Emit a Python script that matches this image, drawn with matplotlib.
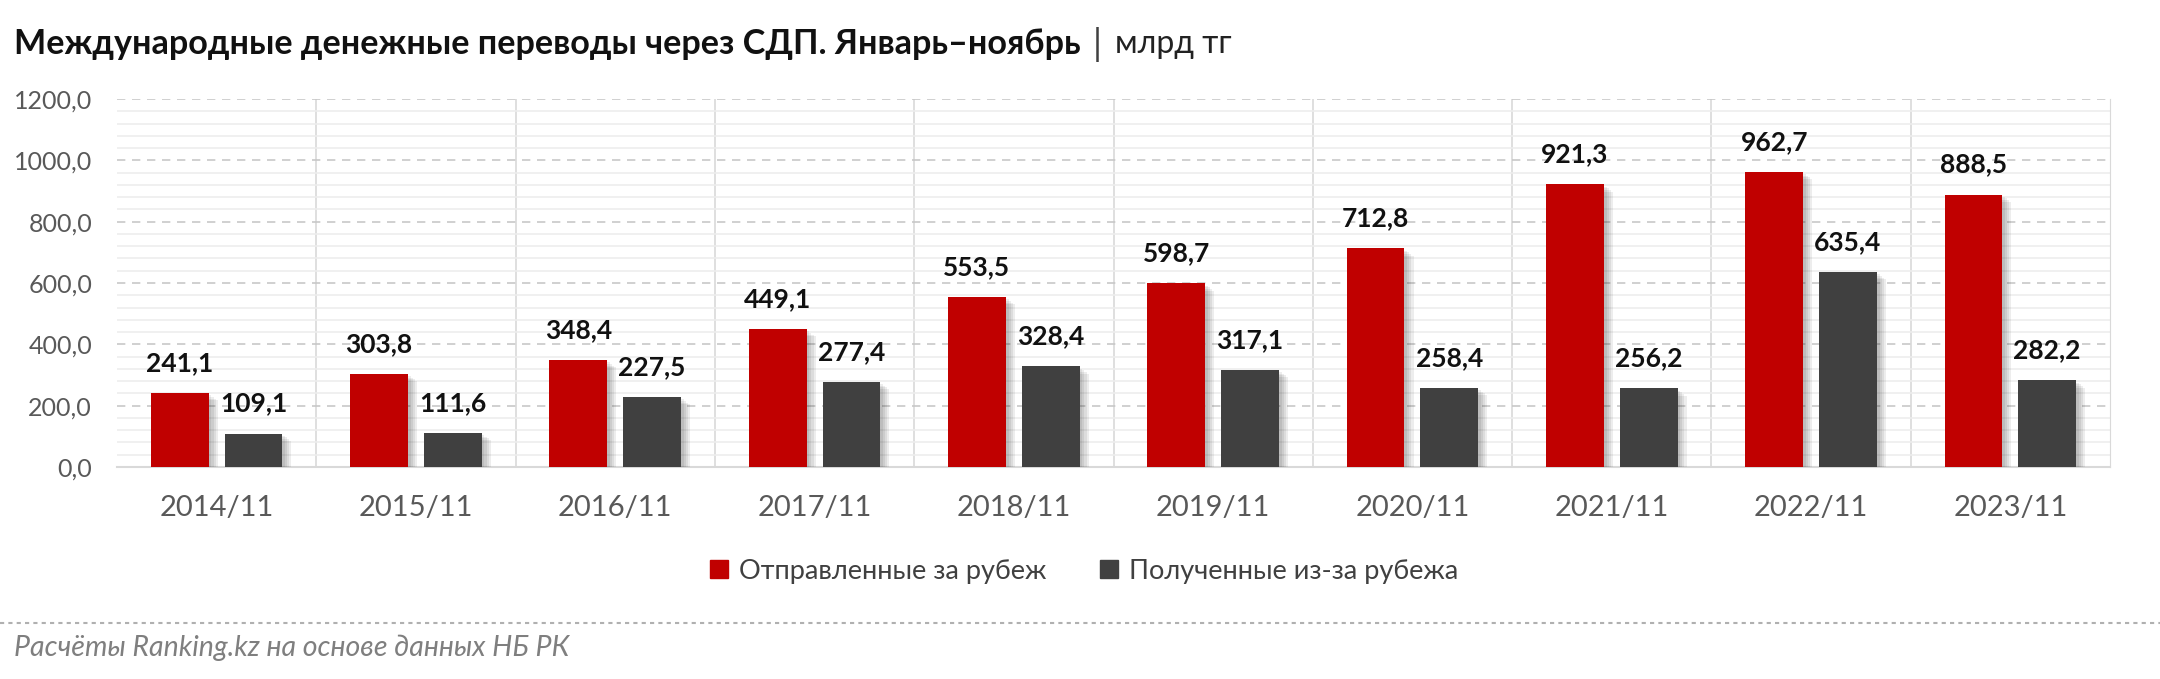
import numpy as np
import matplotlib
matplotlib.use('Agg')
from matplotlib import pyplot as plt
from matplotlib import patheffects as pe
from matplotlib.patches import Patch
from matplotlib.ticker import MultipleLocator, FuncFormatter

periods = ['2014/11', '2015/11', '2016/11', '2017/11', '2018/11',
           '2019/11', '2020/11', '2021/11', '2022/11', '2023/11']
sent = [241.1, 303.8, 348.4, 449.1, 553.5, 598.7, 712.8, 921.3, 962.7, 888.5]
received = [109.1, 111.6, 227.5, 277.4, 328.4, 317.1, 258.4, 256.2, 635.4, 282.2]

title = 'Международные денежные переводы через СДП. Январь–ноябрь'
unit = 'млрд тг'
sent_label = 'Отправленные за рубеж'
received_label = 'Полученные из-за рубежа'
source = 'Расчёты Ranking.kz на основе данных НБ РК'

RED = '#C00000'
DARK = '#404040'

plt.rcParams['font.family'] = ['Lato', 'DejaVu Sans']


def fmt(v):
    return f'{v:.1f}'.replace('.', ',')


W, H = 2160, 679
fig = plt.figure(figsize=(W / 100, H / 100), dpi=100)
ax = fig.add_axes([117 / W, 1 - 467 / H, (2110 - 117) / W, (467 - 99) / H])

x = np.arange(len(periods))
w = 0.29
# soft shadow: a few faint offset copies
shadow = [pe.SimplePatchShadow(offset=(d, -d * 0.8), shadow_rgbFace='#000000', alpha=0.07)
          for d in (2, 3.5, 5, 6.5)] + [pe.Normal()]
b1 = ax.bar(x - 0.185, sent, w, color=RED, zorder=3, path_effects=shadow)
b2 = ax.bar(x + 0.185, received, w, color=DARK, zorder=3, path_effects=shadow)

for bars, vals in ((b1, sent), (b2, received)):
    for r, v in zip(bars, vals):
        ax.annotate(fmt(v), (r.get_x() + r.get_width() / 2, v), xytext=(0, 13),
                    textcoords='offset points', ha='center', va='bottom',
                    fontsize=19, fontweight='bold', color='#111111')

ax.set_xlim(-0.5, len(periods) - 0.5)
ax.set_ylim(0, 1200)
ax.yaxis.set_major_locator(MultipleLocator(200))
ax.yaxis.set_minor_locator(MultipleLocator(40))
ax.yaxis.set_major_formatter(FuncFormatter(lambda v, p: fmt(v)))
ax.grid(axis='y', which='minor', color='#EDEDED', lw=1.2, zorder=0)
ax.grid(axis='y', which='major', color='#C8C8C8', lw=1.2, ls=(0, (5, 4)), zorder=1)
for xv in np.arange(0.5, len(periods) - 0.5, 1):
    ax.axvline(xv, color='#D9D9D9', lw=1.2, zorder=1)

ax.set_xticks(x)
ax.set_xticklabels(periods)
ax.tick_params(axis='both', which='both', length=0, labelcolor='#595959')
ax.tick_params(axis='x', labelsize=21, pad=20)
ax.tick_params(axis='y', labelsize=18, pad=18)
for s in ('top', 'left'):
    ax.spines[s].set_visible(False)
ax.spines['right'].set_color('#D9D9D9')
ax.spines['bottom'].set_color('#D9D9D9')
ax.spines['bottom'].set_linewidth(1.5)

handles = [Patch(color=RED, label=sent_label), Patch(color=DARK, label=received_label)]
fig.legend(handles=handles, loc='center', bbox_to_anchor=(1084 / W, 1 - 571 / H),
           ncol=2, frameon=False, fontsize=19.5, handlelength=0.65, handleheight=0.65,
           columnspacing=2.0, handletextpad=0.4, labelcolor='#404040')

t = fig.text(14 / W, 1 - 44 / H, title, fontsize=24.6, fontweight='bold', va='center', color='#111111')
fig.canvas.draw()
bb = t.get_window_extent()
fig.text((bb.x1 + 12) / W, 1 - 44 / H, '|', fontsize=26, va='center', color='#404040')
fig.text((bb.x1 + 34) / W, 1 - 44 / H, unit, fontsize=23, va='center', color='#222222')

fig.add_artist(plt.Line2D([0, 1], [1 - 623 / H] * 2, color='#B0B0B0', lw=1.5, ls=(0, (2, 2))))
fig.text(14 / W, 1 - 648 / H, source, fontsize=20.5, style='italic', va='center', color='#7F7F7F')

fig.savefig('out.png', dpi=100)
